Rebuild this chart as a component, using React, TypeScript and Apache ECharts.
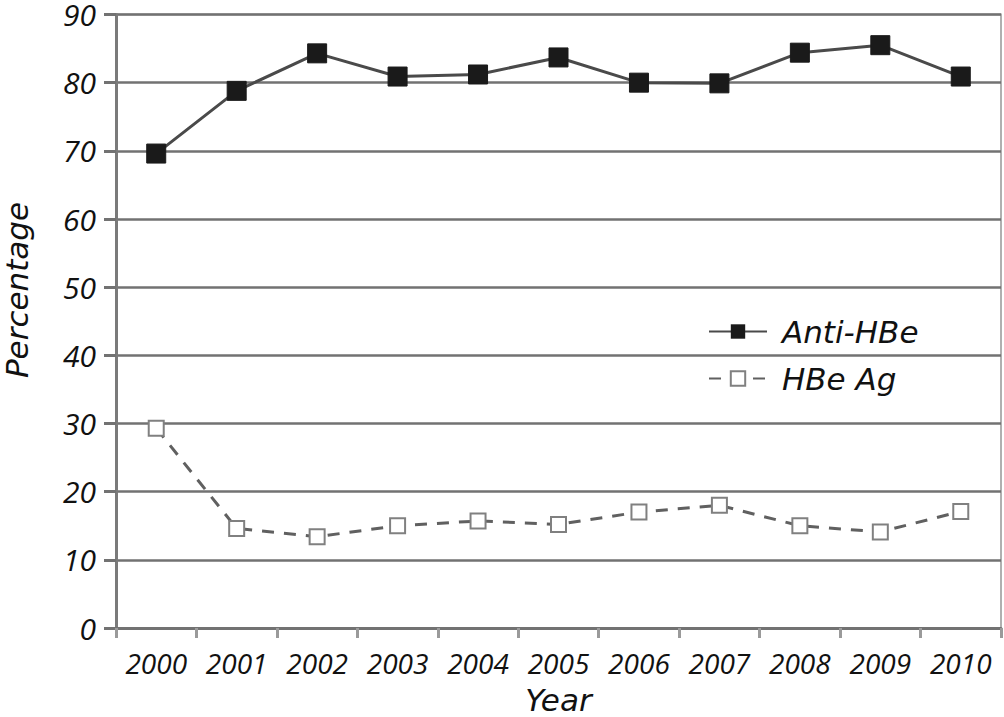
import React, { useEffect, useRef } from "react";
import * as echarts from "echarts";

const years = ["2000", "2001", "2002", "2003", "2004", "2005", "2006", "2007", "2008", "2009", "2010"];
const antiHBe = [69.6, 78.8, 84.3, 80.9, 81.2, 83.7, 80.0, 79.9, 84.4, 85.5, 80.9];
const hbeAg = [29.3, 14.6, 13.4, 15.0, 15.7, 15.2, 17.0, 18.0, 15.0, 14.1, 17.1];

const NUM_FONT = "Open Sans";
const NAME_FONT = "DejaVu Sans";

export default function App() {
  const ref = useRef<HTMLDivElement>(null);
  useEffect(() => {
    if (!ref.current) return;
    const chart = echarts.init(ref.current, null, { renderer: "svg" });
    chart.setOption({
      animation: false,
      backgroundColor: "#ffffff",
      textStyle: { fontFamily: NUM_FONT, fontStyle: "italic" },
      grid: {
        left: 116,
        right: 3,
        top: 14.5,
        bottom: 89,
        show: true,
        borderColor: "#b0b0b0",
        borderWidth: 2,
        outerBoundsMode: "none",
        containLabel: false,
      },
      legend: {
        orient: "vertical",
        left: 703,
        top: 310,
        itemWidth: 58,
        itemHeight: 18,
        itemGap: 14,
        textStyle: {
          fontFamily: NAME_FONT,
          fontStyle: "italic",
          fontSize: 31,
          lineHeight: 33,
          color: "#111",
          padding: [0, 0, 0, 10],
        },
        data: ["Anti-HBe", "HBe Ag"],
      },
      graphic: [
        {
          type: "text",
          x: 17,
          y: 290,
          rotation: Math.PI / 2,
          style: {
            text: "Percentage",
            fontFamily: NAME_FONT,
            fontStyle: "italic",
            fontSize: 31,
            fill: "#111",
            textAlign: "center",
            textVerticalAlign: "middle",
          },
        },
      ],
      xAxis: {
        type: "category",
        data: years,
        boundaryGap: true,
        name: "Year",
        nameLocation: "middle",
        nameGap: 56,
        nameTextStyle: { fontFamily: NAME_FONT, fontStyle: "italic", fontSize: 31, color: "#111" },
        axisLine: { lineStyle: { color: "#727272", width: 3 } },
        axisTick: { show: true, interval: 0, length: 10, lineStyle: { color: "#9a9a9a", width: 3 } },
        axisLabel: { interval: 0, fontFamily: NUM_FONT, fontStyle: "italic", fontSize: 28, color: "#111", margin: 21 },
        splitLine: { show: false },
      },
      yAxis: {
        type: "value",
        min: 0,
        max: 90,
        interval: 10,
        axisLine: { show: true, lineStyle: { color: "#7a7a7a", width: 3 } },
        axisTick: { show: true, length: 12, lineStyle: { color: "#727272", width: 3 } },
        axisLabel: { fontFamily: NUM_FONT, fontStyle: "italic", fontSize: 30, lineHeight: 26, color: "#111", margin: 20 },
        splitLine: { show: true, lineStyle: { color: "#727272", width: 2.5 } },
      },
      series: [
        {
          name: "Anti-HBe",
          type: "line",
          data: antiHBe,
          symbol: "rect",
          symbolSize: 19,
          itemStyle: { color: "#1a1a1a", borderColor: "#1a1a1a" },
          lineStyle: { color: "#4a4a4a", width: 3 },
          z: 3,
        },
        {
          name: "HBe Ag",
          type: "line",
          data: hbeAg,
          symbol: "rect",
          symbolSize: 15,
          itemStyle: { color: "#ffffff", borderColor: "#808080", borderWidth: 2 },
          lineStyle: { color: "#606060", width: 3, type: [12, 10] },
          z: 3,
        },
      ],
    });
    return () => chart.dispose();
  }, []);
  return (
    <div
      ref={ref}
      style={{ position: "fixed", left: 0, top: 0, width: 1004, height: 717 }}
    />
  );
}
